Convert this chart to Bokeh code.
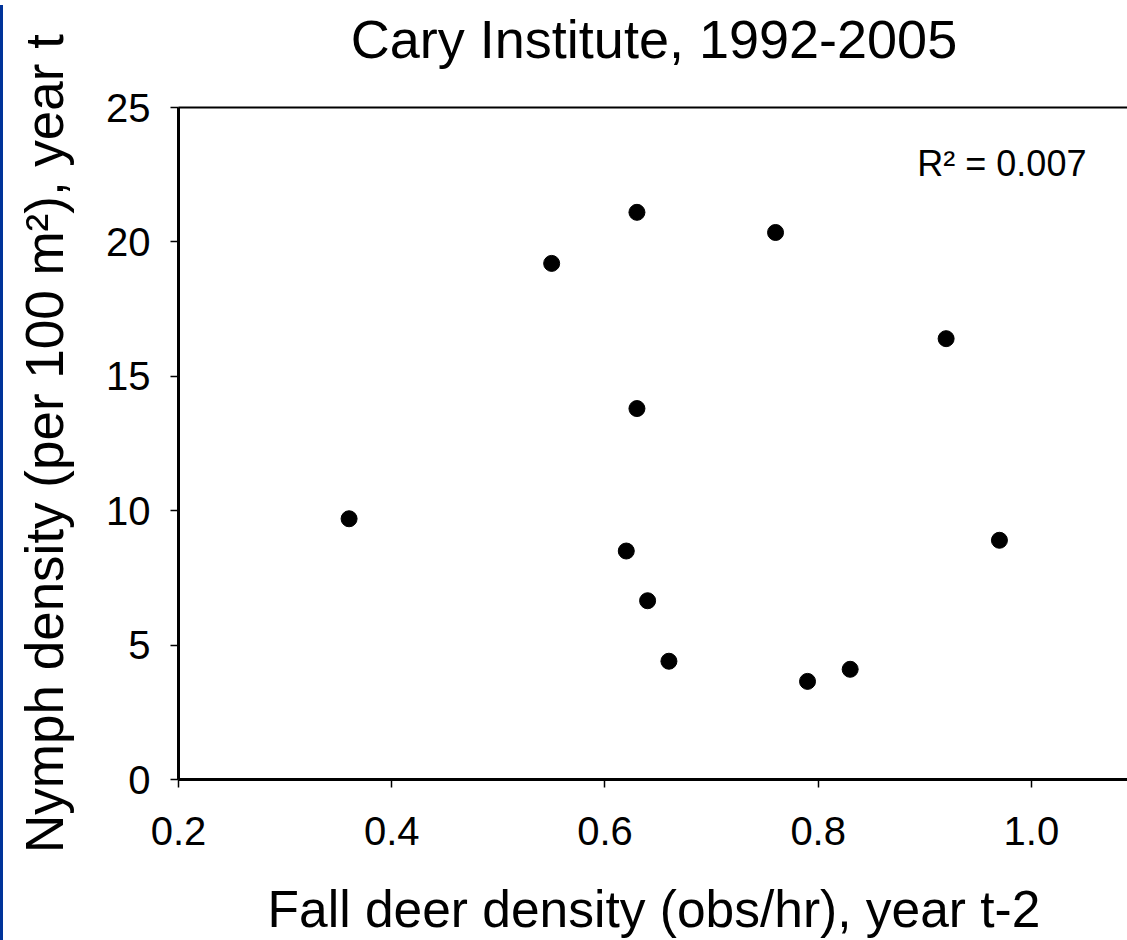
from bokeh.plotting import figure
from bokeh.models import Range1d, FixedTicker, PrintfTickFormatter, Label, Div, LinearAxis
from bokeh.layouts import row
from bokeh.embed import file_html
from bokeh.resources import INLINE

# Data
deer_density = [0.36, 0.55, 0.63, 0.63, 0.62, 0.64, 0.66, 0.76, 0.79, 0.83, 0.92, 0.97]
nymph_density = [9.7, 19.2, 21.1, 13.8, 8.5, 6.65, 4.4, 20.35, 3.65, 4.1, 16.4, 8.9]
x_ticks = [0.2, 0.4, 0.6, 0.8, 1.0]
y_ticks = [0, 5, 10, 15, 20, 25]
title_text = "Cary Institute, 1992-2005"
r2_text = "R² = 0.007"

FONT = "Liberation Sans"

p = figure(width=1121, height=940, output_backend="svg", toolbar_location=None,
           x_range=Range1d(0.2, 1.092), y_range=Range1d(0, 25),
           min_border_left=170, min_border_right=0, min_border_top=107, min_border_bottom=160)

p.background_fill_color = "white"
p.border_fill_color = "white"
p.grid.visible = False
p.outline_line_color = None

for ax in (p.xaxis[0], p.yaxis[0]):
    ax.axis_line_width = 3
    ax.axis_line_color = "black"
    ax.major_tick_line_width = 1.5
    ax.major_tick_line_color = "black"
    ax.major_tick_out = 8
    ax.major_tick_in = 0
    ax.minor_tick_line_color = None
    ax.major_label_text_font = FONT
    ax.major_label_text_font_size = "40px"
    ax.major_label_text_color = "black"
    ax.axis_label_text_font = FONT
    ax.axis_label_text_font_style = "normal"
    ax.axis_label_text_color = "black"

p.xaxis[0].major_label_standoff = 29
p.xaxis[0].axis_label_standoff = 32
p.xaxis[0].axis_label_text_font_size = "51.5px"
p.yaxis[0].major_label_standoff = 20
p.yaxis[0].axis_label_standoff = 29
p.yaxis[0].axis_label_text_font_size = "53px"

p.xaxis[0].ticker = FixedTicker(ticks=x_ticks)
p.xaxis[0].formatter = PrintfTickFormatter(format="%.1f")
p.yaxis[0].ticker = FixedTicker(ticks=y_ticks)
p.yaxis[0].formatter = PrintfTickFormatter(format="%d")
p.xaxis[0].axis_label = "Fall deer density (obs/hr), year t-2"
p.yaxis[0].axis_label = "Nymph density (per 100 m²), year t"

# Top frame line carrying the chart title as its label
top = LinearAxis(ticker=FixedTicker(ticks=[]), axis_label=title_text)
top.axis_line_width = 2
top.axis_line_color = "black"
top.major_tick_out = 0
top.major_tick_in = 0
top.major_label_standoff = 0
top.major_label_text_font_size = "0px"
top.minor_tick_line_color = None
top.axis_label_text_font = FONT
top.axis_label_text_font_size = "54px"
top.axis_label_text_font_style = "normal"
top.axis_label_text_color = "black"
top.axis_label_standoff = 39
p.add_layout(top, "above")

p.scatter(deer_density, nymph_density, size=16, color="black", marker="circle")

p.add_layout(Label(x=0.893, y=22.92, text=r2_text, text_font=FONT,
                   text_font_size="36px", text_color="black", text_baseline="alphabetic"))

stripe = Div(text="", width=6, height=940, styles={"background-color": "#003399"})
layout = row(stripe, p, styles={"margin-left": "-8px", "margin-top": "0px"})

open("out.html", "w").write(file_html(layout, INLINE))
